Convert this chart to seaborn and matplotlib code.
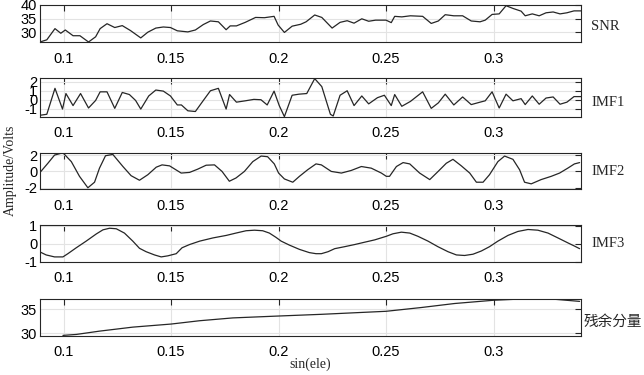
# EMD decomposition of SNR vs sin(ele)
import matplotlib
matplotlib.use("Agg")
import matplotlib.pyplot as plt
import seaborn as sns
import pandas as pd

sns.set_theme(style="whitegrid")
plt.rcParams['font.family'] = ['Liberation Sans', 'DejaVu Sans']
plt.rcParams['axes.unicode_minus'] = False

# data
snr_x = [0.0890, 0.0922, 0.0960, 0.0987, 0.1008, 0.1044, 0.1076, 0.1116, 0.1149, 0.1170,
         0.1202, 0.1238, 0.1273, 0.1311, 0.1359, 0.1392, 0.1429, 0.1464, 0.1497, 0.1529,
         0.1578, 0.1613, 0.1650, 0.1683, 0.1720, 0.1756, 0.1775, 0.1804, 0.1845, 0.1893,
         0.1934, 0.1979, 0.1998, 0.2027, 0.2063, 0.2103, 0.2128, 0.2168, 0.2201, 0.2249,
         0.2286, 0.2319, 0.2351, 0.2387, 0.2419, 0.2451, 0.2500, 0.2524, 0.2540, 0.2573,
         0.2613, 0.2670, 0.2710, 0.2743, 0.2775, 0.2815, 0.2856, 0.2896, 0.2937, 0.2961,
         0.2993, 0.3026, 0.3058, 0.3090, 0.3128, 0.3147, 0.3180, 0.3212, 0.3244, 0.3277,
         0.3309, 0.3341, 0.3374, 0.3406]
snr_y = [26.4, 27.2, 31.3, 29.6, 30.8, 28.7, 28.7, 26.4, 28.3, 31.3,
         33.1, 31.7, 32.4, 30.6, 27.9, 30.0, 31.5, 31.9, 31.7, 30.5,
         30.1, 30.8, 32.8, 34.1, 33.8, 30.9, 32.3, 32.3, 33.6, 35.4,
         35.3, 35.8, 32.6, 29.9, 32.2, 32.9, 33.8, 36.3, 35.4, 31.5,
         33.6, 34.2, 33.3, 34.9, 34.0, 34.4, 34.4, 33.5, 35.8, 35.6,
         36.0, 35.8, 33.2, 34.1, 36.4, 36.0, 36.0, 34.1, 33.8, 34.4,
         36.5, 36.7, 39.7, 38.7, 37.7, 36.0, 36.7, 36.0, 37.1, 37.4,
         36.7, 37.1, 37.8, 37.8]

imf1_x = [0.0890, 0.0922, 0.0960, 0.0995, 0.1011, 0.1044, 0.1079, 0.1116, 0.1149, 0.1170,
          0.1202, 0.1238, 0.1273, 0.1306, 0.1335, 0.1359, 0.1396, 0.1429, 0.1464, 0.1497,
          0.1529, 0.1548, 0.1578, 0.1613, 0.1650, 0.1683, 0.1720, 0.1756, 0.1772, 0.1804,
          0.1845, 0.1885, 0.1918, 0.1947, 0.1979, 0.2003, 0.2027, 0.2063, 0.2095, 0.2131,
          0.2168, 0.2201, 0.2241, 0.2254, 0.2286, 0.2319, 0.2351, 0.2387, 0.2419, 0.2460,
          0.2492, 0.2524, 0.2540, 0.2573, 0.2613, 0.2670, 0.2710, 0.2743, 0.2775, 0.2815,
          0.2856, 0.2896, 0.2937, 0.2961, 0.2993, 0.3026, 0.3058, 0.3090, 0.3128, 0.3147,
          0.3180, 0.3212, 0.3244, 0.3277, 0.3309, 0.3341, 0.3374, 0.3406]
imf1_y = [-1.73, -1.62, 1.27, -1.04, 0.69, -0.65, 0.69, -0.92, -0.08, 0.88,
          0.88, -0.96, 0.81, 0.58, -0.08, -1.04, 0.42, 1.08, 0.96, 0.42,
          -0.58, -0.58, -1.23, -1.31, -0.08, 1.00, 1.27, -1.04, 0.58, -0.27,
          -0.12, 0.04, 0.00, -0.58, 0.96, -0.65, -1.88, 0.50, 0.62, 0.69,
          2.35, 1.46, -1.62, -1.81, 0.50, 1.00, -0.65, 0.42, -0.46, 0.23,
          0.50, -0.65, 0.58, -0.73, -0.19, 0.88, -0.96, -0.35, 0.62, -0.58,
          0.31, -0.54, -0.27, -0.12, 0.88, -0.92, 0.62, -0.12, 0.12, -0.54,
          0.42, -0.50, 0.19, 0.31, -0.50, -0.27, 0.35, 0.35]

imf2_x = [0.0888, 0.0927, 0.0958, 0.0997, 0.1036, 0.1074, 0.1113, 0.1144, 0.1167, 0.1195,
          0.1229, 0.1276, 0.1314, 0.1353, 0.1392, 0.1431, 0.1458, 0.1493, 0.1547, 0.1586,
          0.1624, 0.1663, 0.1702, 0.1737, 0.1771, 0.1802, 0.1841, 0.1880, 0.1919, 0.1949,
          0.1980, 0.2000, 0.2027, 0.2066, 0.2097, 0.2135, 0.2174, 0.2199, 0.2245, 0.2292,
          0.2338, 0.2385, 0.2431, 0.2478, 0.2501, 0.2516, 0.2548, 0.2579, 0.2610, 0.2656,
          0.2703, 0.2742, 0.2780, 0.2811, 0.2850, 0.2889, 0.2920, 0.2951, 0.2981, 0.3020,
          0.3051, 0.3090, 0.3121, 0.3144, 0.3175, 0.3221, 0.3268, 0.3307, 0.3345, 0.3376,
          0.3400]
imf2_y = [-0.20, 1.00, 2.00, 2.28, 1.20, -0.60, -2.00, -1.32, 0.40, 1.92,
          2.08, 0.60, -0.52, -1.08, -0.40, 0.52, 0.80, 0.68, -0.20, -0.12,
          0.28, 0.76, 0.80, 0.00, -1.20, -0.80, 0.00, 1.20, 1.88, 1.80,
          0.92, -0.20, -0.92, -1.32, -0.60, 0.20, 0.92, 0.80, 0.00, -0.20,
          0.12, 0.60, 0.40, -0.20, -0.60, -0.60, 0.60, 1.08, 0.92, -0.20,
          -1.00, 0.00, 1.00, 1.48, 0.68, -0.20, -1.32, -1.32, -0.40, 1.20,
          1.88, 1.48, 0.20, -1.32, -1.52, -1.00, -0.60, -0.20, 0.40, 0.92,
          1.08]

imf3_x = [0.0888, 0.0919, 0.0958, 0.0997, 0.1020, 0.1059, 0.1105, 0.1152, 0.1183, 0.1214,
          0.1245, 0.1283, 0.1322, 0.1353, 0.1384, 0.1423, 0.1454, 0.1485, 0.1524, 0.1551,
          0.1586, 0.1633, 0.1695, 0.1757, 0.1802, 0.1849, 0.1888, 0.1926, 0.1957, 0.1988,
          0.2012, 0.2050, 0.2097, 0.2143, 0.2174, 0.2199, 0.2230, 0.2261, 0.2307, 0.2354,
          0.2400, 0.2447, 0.2501, 0.2532, 0.2571, 0.2610, 0.2648, 0.2695, 0.2741, 0.2788,
          0.2827, 0.2865, 0.2904, 0.2943, 0.2981, 0.3020, 0.3067, 0.3113, 0.3160, 0.3206,
          0.3253, 0.3299, 0.3346, 0.3377, 0.3400]
imf3_y = [-0.44, -0.62, -0.73, -0.73, -0.55, -0.22, 0.15, 0.55, 0.78, 0.87,
          0.84, 0.60, 0.15, -0.25, -0.44, -0.62, -0.73, -0.67, -0.55, -0.22,
          -0.04, 0.15, 0.33, 0.47, 0.60, 0.73, 0.76, 0.73, 0.60, 0.36,
          0.15, -0.07, -0.31, -0.49, -0.55, -0.55, -0.44, -0.27, -0.16, -0.04,
          0.09, 0.22, 0.42, 0.56, 0.65, 0.60, 0.42, 0.15, -0.16, -0.44,
          -0.62, -0.65, -0.58, -0.40, -0.16, 0.15, 0.47, 0.69, 0.80, 0.76,
          0.60, 0.33, 0.05, -0.13, -0.27]

res_x = [0.0997, 0.1059, 0.1167, 0.1322, 0.1500, 0.1632, 0.1787, 0.2000, 0.2199,
         0.2500, 0.2664, 0.2819, 0.3000, 0.3128, 0.3283, 0.3400]
res_y = [29.5, 29.7, 30.4, 31.25, 31.9, 32.6, 33.2, 33.6, 33.96,
         34.6, 35.4, 36.25, 36.94, 37.2, 37.15, 36.7]

panels = [
    ('SNR', snr_x, snr_y, (26.4, 40.0), [30, 35, 40], 0.405, 1.018),
    ('IMF1', imf1_x, imf1_y, (-1.88, 2.42), [-1, 0, 1, 2], 0.354, 1.020),
    ('IMF2', imf2_x, imf2_y, (-2.15, 2.3), [-2, 0, 2], 0.47, 1.020),
    ('IMF3', imf3_x, imf3_y, (-1.0, 1.05), [-1, 0, 1], 0.5, 1.020),
    ('残余分量', res_x, res_y, (29.45, 37.15), [30, 35], 0.376, 1.004),
]

fig = plt.figure(figsize=(6.44, 3.75), dpi=100)
bottoms = [0.888, 0.689, 0.496, 0.302, 0.105]
heights = [0.099, 0.103, 0.097, 0.098, 0.097]
dark = '#262626'

for (name, xs, ys, ylim, yt, ty, tx), b, h in zip(panels, bottoms, heights):
    ax = fig.add_axes([0.062, b, 0.840, h])
    df = pd.DataFrame({'x': xs, 'y': ys})
    sns.lineplot(data=df, x='x', y='y', ax=ax, color=dark, linewidth=0.9,
                 estimator=None, sort=False)
    ax.set_xlim(0.089, 0.3406)
    ax.set_ylim(*ylim)
    ax.set_xticks([0.1, 0.15, 0.2, 0.25, 0.3])
    ax.set_xticklabels(['0.1', '0.15', '0.2', '0.25', '0.3'])
    ax.set_yticks(yt)
    ax.set_xlabel('')
    ax.set_ylabel('')
    ax.grid(True, color='#e3e3e3', linewidth=0.8)
    for s in ax.spines.values():
        s.set_color(dark)
        s.set_linewidth(0.8)
    ax.tick_params(axis='both', direction='in', length=4, width=0.8, color=dark,
                   labelsize=10.5, labelcolor='black', top=True, right=True)
    ax.tick_params(axis='x', pad=7)
    ax.tick_params(axis='y', pad=2)
    if name == '残余分量':
        ax.text(tx, ty, name, transform=ax.transAxes, va='center', ha='left',
                fontsize=10.5, family=['Noto Sans CJK SC', 'DejaVu Sans'])
    else:
        ax.text(tx, ty, name, transform=ax.transAxes, va='center', ha='left',
                fontsize=10.5, family='Liberation Serif')
    if name == '残余分量':
        ax.text(0.5, -0.78, 'sin(ele)', transform=ax.transAxes, ha='center',
                va='center', fontsize=10, family='Liberation Serif')

fig.text(0.016, 0.547, 'Amplitude/Volts', rotation=90, ha='center', va='center',
         fontsize=10, family='Liberation Serif')

plt.savefig('out.png', dpi=100)
